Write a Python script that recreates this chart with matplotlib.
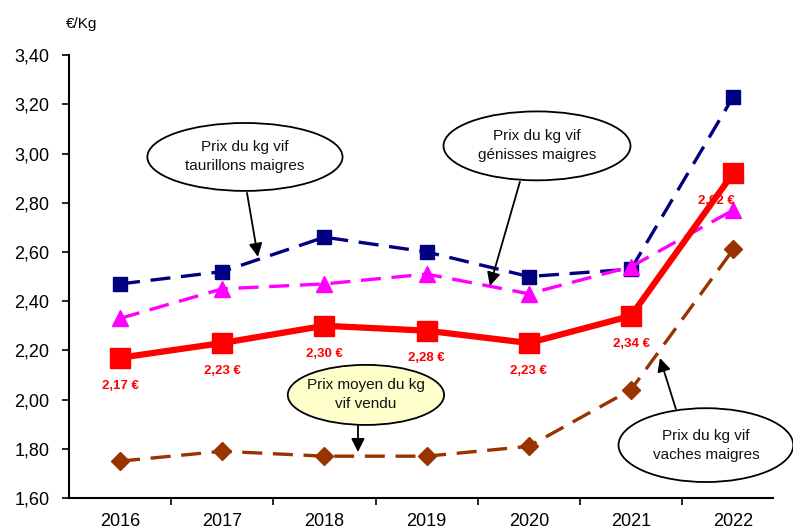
import matplotlib
matplotlib.use('Agg')
import matplotlib.pyplot as plt
from matplotlib.patches import Ellipse

years = ['2016', '2017', '2018', '2019', '2020', '2021', '2022']
taurillons = [2.47, 2.52, 2.66, 2.60, 2.50, 2.53, 3.23]
genisses = [2.33, 2.45, 2.47, 2.51, 2.43, 2.54, 2.77]
prix_moyen = [2.17, 2.23, 2.30, 2.28, 2.23, 2.34, 2.92]
vaches = [1.75, 1.79, 1.77, 1.77, 1.81, 2.04, 2.61]
yticks = [1.6, 1.8, 2.0, 2.2, 2.4, 2.6, 2.8, 3.0, 3.2, 3.4]

plt.rcParams['font.family'] = ['Liberation Sans', 'DejaVu Sans']

fig = plt.figure(figsize=(7.93, 5.27), dpi=100)
ax = fig.add_axes([0.087, 0.055, 0.902, 0.8405])
x = range(len(years))

ax.plot(x, vaches, color='#993300', lw=2.4, dashes=(6, 3.2), marker='D',
        ms=9, zorder=3)
ax.plot(x, taurillons, color='#000080', lw=2.4, dashes=(6, 3.2), marker='s',
        ms=10, zorder=3)
ax.plot(x, genisses, color='#FF00FF', lw=2.4, dashes=(6, 3.2), marker='^',
        ms=11, zorder=4)
ax.plot(x, prix_moyen, color='#FF0000', lw=4.5, marker='s', ms=14, zorder=5)

# data labels on the red line
for i, v in enumerate(prix_moyen):
    dx = -12 if i == len(years) - 1 else 0
    ax.annotate(('%.2f €' % v).replace('.', ','), (i, v), xytext=(dx, -20),
                textcoords='offset points', ha='center', va='center',
                color='#FF0000', fontsize=9.5, fontweight='bold', zorder=6)

ax.set_xlim(-0.5, 6.5)
ax.set_ylim(1.6, 3.4)
ax.set_yticks(yticks)
ax.set_yticklabels([('%.2f' % t).replace('.', ',') for t in yticks], fontsize=13)
ax.set_xticks(list(x))
ax.set_xticklabels(years, fontsize=13)
ax.set_xticks([i - 0.5 for i in range(1, len(years))], minor=True)
ax.tick_params(axis='x', which='major', length=0, pad=11)
ax.tick_params(axis='x', which='minor', length=5, width=1.2, direction='out')
ax.tick_params(axis='y', length=5, width=1.2, direction='out', pad=9)
for s in ['top', 'right']:
    ax.spines[s].set_visible(False)
for s in ['left', 'bottom']:
    ax.spines[s].set_linewidth(1.5)
ax.spines['bottom'].set_bounds(-0.5, 6.39)

# callouts: (center, width, height, face, text, arrow start, arrow end)
callouts = [
    ((1.222, 2.986), 1.91, 0.276, 'white', 'Prix du kg vif\ntaurillons maigres',
     (1.242, 2.84), (1.349, 2.58)),
    ((4.08, 3.031), 1.83, 0.28, 'white', 'Prix du kg vif\ngénisses maigres',
     (3.913, 2.885), (3.619, 2.462)),
    ((2.406, 2.019), 1.53, 0.244, '#FFFFCC', 'Prix moyen du kg\nvif vendu',
     (2.328, 1.897), (2.328, 1.787)),
    ((5.733, 1.815), 1.71, 0.30, 'white', 'Prix du kg vif\nvaches maigres',
     (5.439, 1.962), (5.283, 2.169)),
]
for c, w, h, fc, txt, p0, p1 in callouts:
    ax.add_patch(Ellipse(c, w, h, facecolor=fc, edgecolor='black', lw=1.3,
                         zorder=7, clip_on=False))
    ax.text(c[0], c[1], txt, ha='center', va='center', fontsize=11,
            color='#111111', linespacing=1.45, zorder=8)
    ax.annotate('', xy=p1, xytext=p0,
                arrowprops=dict(arrowstyle='-|>', color='black', lw=1.3,
                                mutation_scale=20, shrinkA=0, shrinkB=0),
                zorder=8)

fig.text(82 / 793, 1 - 24 / 527, '€/Kg', ha='center', va='center', fontsize=11)

fig.savefig('out.png', dpi=100)
